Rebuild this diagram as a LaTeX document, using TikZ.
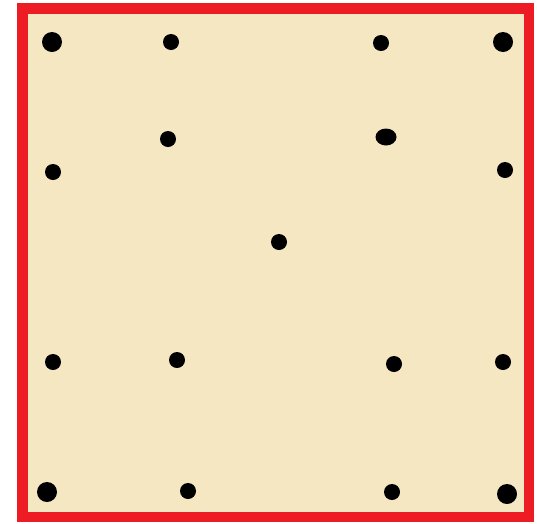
\documentclass[tikz,border=0pt]{standalone}
\usepackage{tikz}
\definecolor{boardred}{HTML}{ED1C24}
\definecolor{boardbeige}{HTML}{F4E7C1}
\begin{document}
\begin{tikzpicture}[x=1pt, y=-1pt]

  % --- 1. 範囲 ---
  \useasboundingbox (0,0) rectangle (537,523);

  % --- 2. 板（ベージュ地と赤枠） ---
  \draw[line width=10.5pt, boardred, fill=boardbeige] (22.5,8.5) rectangle (529,517);

  % --- 3. 小さい点 ---
  \foreach \x/\y in {171/42, 381/43, 168/139, 53/172, 505/170, 279/242,
                     53/362, 177/360, 394/364, 503/362, 188/491, 392/492}
    \fill[black] (\x,\y) circle (8pt);

  % --- 4. 大きい点（四隅） ---
  \foreach \x/\y in {52/42, 503/42, 47/492, 507/494}
    \fill[black] (\x,\y) circle (10pt);

  % 右上の楕円の点
  \fill[black] (386,137) ellipse (10.5pt and 8.5pt);

\end{tikzpicture}
\end{document}
